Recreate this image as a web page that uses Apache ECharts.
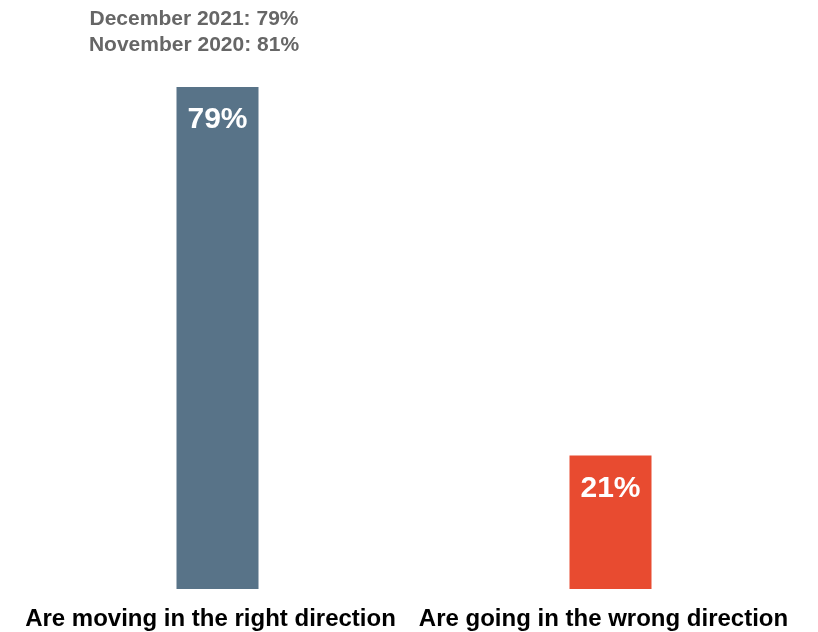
<!DOCTYPE html>
<html><head><meta charset="utf-8">
<script src="https://cdn.jsdelivr.net/npm/echarts@6/dist/echarts.min.js"></script>
<style>html,body{margin:0;padding:0;background:#fff}#c{width:818px;height:632px}</style>
</head><body><div id="c"></div>
<script>
const categories = ["Are moving in the right direction", "Are going in the wrong direction"];
const values = [79, 21];
const colors = ["#587388", "#E84B30"];
const noteLines = ["December 2021: 79%", "November 2020: 81%"];

const chart = echarts.init(document.getElementById('c'));
chart.setOption({
  animation: false,
  grid: {left: 21, right: 11, top: 87, bottom: 43},
  xAxis: {
    type: 'category', data: categories,
    axisLine: {show: false}, axisTick: {show: false},
    axisLabel: {interval: 0, color: '#000', fontFamily: 'Liberation Sans, Arial, sans-serif', fontWeight: 'bold', fontSize: 24, margin: 18, padding: [0, 14, 0, 0]}
  },
  yAxis: {type: 'value', min: 0, max: 79, show: false, splitLine: {show: false}},
  series: [{
    type: 'bar', barWidth: 82,
    data: values.map((v, i) => ({value: v, itemStyle: {color: colors[i]}})),
    label: {
      show: true, position: 'insideTop', distance: 18,
      formatter: p => p.value + '%',
      color: '#fff', fontFamily: 'Liberation Sans, Arial, sans-serif', fontWeight: 'bold', fontSize: 30
    }
  }],
  graphic: [{
    type: 'text', x: 194, y: 6,
    style: {
      text: noteLines.join('\n'),
      fill: '#666', font: 'bold 21px "Liberation Sans", Arial, sans-serif',
      lineHeight: 26, align: 'center', textAlign: 'center'
    }
  }]
});
</script></body></html>
